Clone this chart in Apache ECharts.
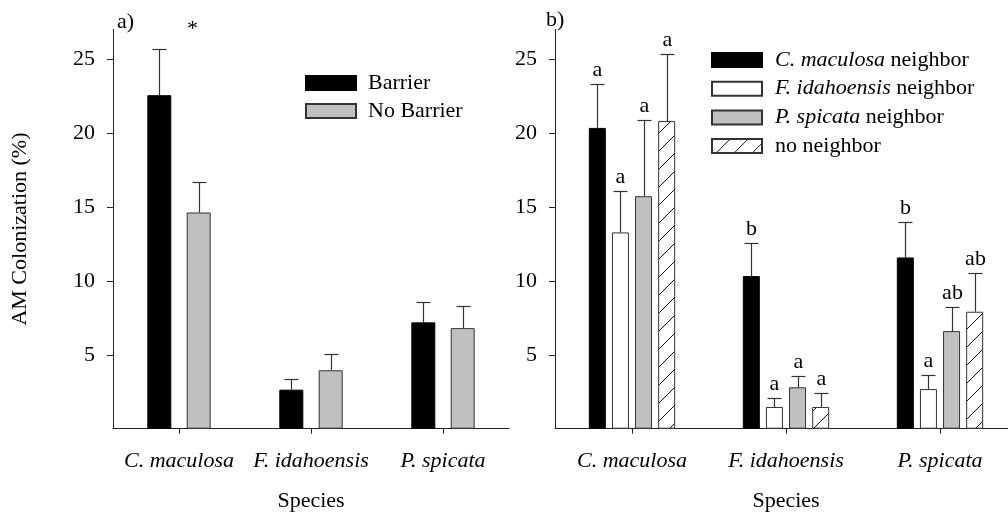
<!DOCTYPE html>
<html>
<head>
<meta charset="utf-8">
<script src="https://cdn.jsdelivr.net/npm/echarts@6/dist/echarts.min.js"></script>
<style>
html,body{margin:0;padding:0;background:#fff;}
#chart{width:1008px;height:512px;}
</style>
</head>
<body>
<div id="chart"></div>
<script>
// ---- data ----
const categories = ['C. maculosa', 'F. idahoensis', 'P. spicata'];
const yTicks = [5, 10, 15, 20, 25];

// panel a
const barrier = [22.55, 2.64, 7.19];
const barrierErr = [3.13, 0.70, 1.37];
const noBarrier = [14.62, 3.95, 6.80];
const noBarrierErr = [2.03, 1.12, 1.51];

// panel b
const cmNeighbor = [20.34, 10.32, 11.58];
const cmNeighborErr = [3.00, 2.27, 2.43];
const fiNeighbor = [13.27, 1.47, 2.68];
const fiNeighborErr = [2.81, 0.58, 0.97];
const psNeighbor = [15.72, 2.80, 6.60];
const psNeighborErr = [5.18, 0.74, 1.64];
const noNeighbor = [20.81, 1.47, 7.91];
const noNeighborErr = [4.51, 0.94, 2.63];

const cmLetters = ['a', 'b', 'b'];
const fiLetters = ['a', 'a', 'a'];
const psLetters = ['a', 'a', 'ab'];
const noLetters = ['a', 'a', 'ab'];

// ---- styles ----
const FONT = "'Liberation Serif', 'Times New Roman', serif";
const FS = 22;
const AX = '#222';
const EB = '#333';

// hatch pattern
function makeHatch() {
  const s = 18;
  const c = document.createElement('canvas');
  c.width = s; c.height = s;
  const g = c.getContext('2d');
  g.fillStyle = '#fff';
  g.fillRect(0, 0, s, s);
  g.strokeStyle = '#111';
  g.lineWidth = 1;
  g.beginPath();
  g.moveTo(-2, s + 2); g.lineTo(s + 2, -2);
  g.moveTo(-2, 2); g.lineTo(2, -2);
  g.moveTo(s - 2, s + 2); g.lineTo(s + 2, s - 2);
  g.stroke();
  return c;
}
const hatch = makeHatch();

const chart = echarts.init(document.getElementById('chart'), null, {renderer: 'canvas'});

function errSeries(name, vals, errs, idx, n, barW, gapFrac, letters, xi) {
  return {
    type: 'custom',
    name: name + '_err',
    xAxisIndex: xi, yAxisIndex: xi,
    z: 5,
    silent: true,
    data: vals.map((v, i) => [i, v, errs[i]]),
    encode: {x: 0, y: 1},
    renderItem: function (params, api) {
      const ci = api.value(0), v = api.value(1), e = api.value(2);
      const base = api.coord([ci, v]);
      const top = api.coord([ci, v + e]);
      const step = barW * (1 + gapFrac);
      const off = (idx - (n - 1) / 2) * step;
      const x = Math.round(base[0] + off) + 0.5;
      const ty = Math.round(top[1]) + 0.5;
      const cap = 7;
      const children = [
        {type: 'line', shape: {x1: x, y1: base[1], x2: x, y2: ty}, style: {stroke: EB, lineWidth: 1.2}},
        {type: 'line', shape: {x1: x - cap, y1: ty, x2: x + cap, y2: ty}, style: {stroke: EB, lineWidth: 1.2}}
      ];
      if (letters) {
        children.push({
          type: 'text',
          style: {
            text: letters[params.dataIndex], x: x, y: ty - 3,
            align: 'center', verticalAlign: 'bottom',
            font: FS + 'px ' + FONT, fill: '#000'
          }
        });
      }
      return {type: 'group', children: children};
    }
  };
}

function yAxisDef(gi, withName) {
  return {
    type: 'value', gridIndex: gi, min: 0, max: 27, interval: 5,
    name: withName ? 'AM Colonization (%)' : '',
    nameLocation: 'middle', nameGap: 82,
    nameTextStyle: {fontFamily: FONT, fontSize: FS, color: '#000'},
    axisLine: {show: true, lineStyle: {color: AX, width: 1}},
    axisTick: {show: true, length: 6, lineStyle: {color: AX, width: 1}, customValues: yTicks},
    axisLabel: {fontFamily: FONT, fontSize: FS, color: '#000', margin: 18, customValues: yTicks},
    splitLine: {show: false}
  };
}

function xAxisDef(gi) {
  return {
    type: 'category', gridIndex: gi, data: categories,
    name: 'Species', nameLocation: 'middle', nameGap: 62,
    nameTextStyle: {fontFamily: FONT, fontSize: FS, color: '#000'},
    axisLine: {show: true, lineStyle: {color: AX, width: 1}},
    axisTick: {show: true, alignWithLabel: true, length: 5, lineStyle: {color: AX, width: 1}},
    axisLabel: {fontFamily: FONT, fontSize: FS, fontStyle: 'italic', color: '#000', margin: 22,
      interval: 0, hideOverlap: false},
    splitLine: {show: false}
  };
}

const LW = 24, LG = 0.64;
const RW = 17, RG = 0.36;

function barSeries(name, vals, xi, color, barW, gap, border) {
  return {
    type: 'bar', name: name, xAxisIndex: xi, yAxisIndex: xi,
    data: vals, barWidth: barW, barGap: (gap * 100) + '%',
    itemStyle: {color: color, borderColor: border, borderWidth: 1},
    emphasis: {disabled: true},
    z: 3
  };
}

const option = {
  animation: false,
  backgroundColor: '#fff',
  grid: [
    {left: 113, top: 29.4, width: 396, bottom: 83.3, containLabel: false, outerBoundsMode: 'none'},
    {left: 555, top: 29.4, width: 462, bottom: 83.3, containLabel: false, outerBoundsMode: 'none'}
  ],
  xAxis: [xAxisDef(0), xAxisDef(1)],
  yAxis: [yAxisDef(0, true), yAxisDef(1, false)],
  legend: [
    {
      orient: 'vertical', left: 305, top: 72, padding: 0, itemWidth: 50, itemHeight: 14, itemGap: 6,
      icon: 'rect', selectedMode: false,
      data: ['Barrier', 'No Barrier'],
      textStyle: {fontFamily: FONT, fontSize: FS, color: '#000', lineHeight: 22, padding: [0, 0, 0, 7]}
    },
    {
      orient: 'vertical', left: 711, top: 49, padding: 0, itemWidth: 50, itemHeight: 14, itemGap: 6.7,
      icon: 'rect', selectedMode: false,
      data: ['C. maculosa neighbor', 'F. idahoensis neighbor', 'P. spicata neighbor', 'no neighbor'],
      formatter: function (name) {
        if (name === 'no neighbor') return name;
        return '{i|' + name.replace(' neighbor', '') + '} neighbor';
      },
      textStyle: {
        fontFamily: FONT, fontSize: FS, color: '#000', lineHeight: 22, padding: [0, 0, 0, 8],
        rich: {i: {fontFamily: FONT, fontSize: FS, fontStyle: 'italic', color: '#000', lineHeight: 22}}
      }
    }
  ],
  graphic: [
    {type: 'text', left: 117, top: 11, style: {text: 'a)', font: FS + 'px ' + FONT, fill: '#000'}},
    {type: 'text', left: 546, top: 9, style: {text: 'b)', font: FS + 'px ' + FONT, fill: '#000'}},
    {type: 'text', left: 187, top: 18, style: {text: '*', font: FS + 'px ' + FONT, fill: '#000'}}
  ],
  series: [
    barSeries('Barrier', barrier, 0, '#000', LW, LG, '#000'),
    barSeries('No Barrier', noBarrier, 0, '#c0c0c0', LW, LG, '#333'),
    errSeries('Barrier', barrier, barrierErr, 0, 2, LW, LG, null, 0),
    errSeries('No Barrier', noBarrier, noBarrierErr, 1, 2, LW, LG, null, 0),

    barSeries('C. maculosa neighbor', cmNeighbor, 1, '#000', RW, RG, '#000'),
    barSeries('F. idahoensis neighbor', fiNeighbor, 1, '#fff', RW, RG, '#333'),
    barSeries('P. spicata neighbor', psNeighbor, 1, '#c0c0c0', RW, RG, '#333'),
    barSeries('no neighbor', noNeighbor, 1, {image: hatch, repeat: 'repeat'}, RW, RG, '#333'),
    errSeries('C. maculosa neighbor', cmNeighbor, cmNeighborErr, 0, 4, RW, RG, cmLetters, 1),
    errSeries('F. idahoensis neighbor', fiNeighbor, fiNeighborErr, 1, 4, RW, RG, fiLetters, 1),
    errSeries('P. spicata neighbor', psNeighbor, psNeighborErr, 2, 4, RW, RG, psLetters, 1),
    errSeries('no neighbor', noNeighbor, noNeighborErr, 3, 4, RW, RG, noLetters, 1)
  ]
};
chart.setOption(option);
</script>
</body>
</html>
